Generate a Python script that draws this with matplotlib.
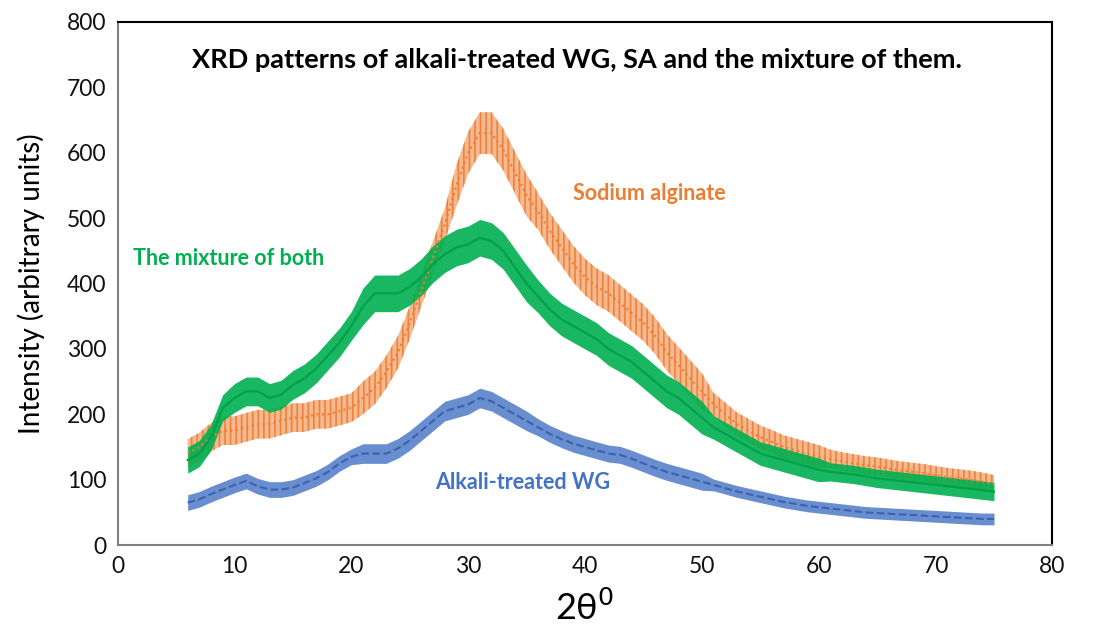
import numpy as np
import matplotlib.pyplot as plt

# =========================
# Datos
# =========================

two_theta = list(range(6, 76))

# Sodium alginate (naranja, punteado)
sa_int = [140, 150, 165, 175, 175, 180, 185, 185, 190, 195,
          195, 200, 200, 205, 210, 225, 240, 265, 295, 340,
          390, 440, 490, 550, 600, 630, 630, 605, 570, 535,
          510, 480, 455, 430, 410, 395, 385, 370, 355, 340,
          320, 295, 275, 255, 235, 215, 200, 185, 175, 165,
          158, 150, 145, 140, 135, 132, 128, 125, 122, 120,
          117, 114, 112, 110, 107, 104, 102, 100, 97, 93]
sa_spread = [22] * 15 + [25] * 8 + [32] * 7 + [28] * 15 + [18] * 10 + [14] * 15

# Mezcla (verde, sólido)
mix_int = [130, 140, 165, 210, 225, 235, 235, 225, 230, 245,
           255, 270, 290, 310, 335, 365, 385, 385, 385, 395,
           410, 430, 445, 455, 460, 470, 465, 450, 425, 400,
           380, 360, 345, 335, 325, 315, 300, 290, 280, 265,
           250, 235, 225, 210, 195, 180, 170, 160, 150, 140,
           135, 130, 125, 120, 115, 112, 110, 108, 105, 102,
           100, 98, 96, 94, 92, 90, 88, 86, 84, 82]
mix_spread = [20] * 4 + [22] * 11 + [28] * 15 + [25] * 15 + [18] * 10 + [14] * 15

# WG tratado con álcali (azul, guiones)
wg_int = [65, 70, 78, 85, 92, 98, 90, 85, 85, 88,
          95, 102, 112, 125, 135, 140, 140, 140, 148, 160,
          175, 190, 205, 210, 215, 225, 220, 210, 200, 190,
          180, 170, 162, 155, 150, 145, 140, 138, 132, 125,
          118, 112, 107, 102, 97, 92, 87, 82, 78, 74,
          70, 66, 63, 60, 58, 56, 54, 52, 50, 49,
          48, 47, 46, 45, 44, 43, 42, 41, 40, 40]
wg_spread = [12] * 15 + [15] * 15 + [13] * 15 + [9] * 25

# =========================
# Gráfico
# =========================

plt.rcParams["font.family"] = ["Lato", "DejaVu Sans"]
plt.rcParams["hatch.linewidth"] = 1.2

fig = plt.figure(figsize=(11.09, 6.28), dpi=100)
ax = fig.add_axes([0.106, 0.132, 0.843, 0.833])

x = np.array(two_theta)

# Sodium alginate: banda rayada (aspecto punteado)
y, s = np.array(sa_int), np.array(sa_spread)
plt.rcParams["hatch.color"] = "#ED7D31"
ax.fill_between(x, y - s, y + s, facecolor="#F4B183", alpha=0.9,
                edgecolor="#ED7D31", hatch="|||", linewidth=0)
ax.plot(x, y, color="#ED7D31", linestyle=":", linewidth=1.5)

# Mezcla
y, s = np.array(mix_int), np.array(mix_spread)
ax.fill_between(x, y - s, y + s, color="#00B050", alpha=0.9, linewidth=0)
ax.plot(x, y, color="#00A04A", linestyle="-", linewidth=1.5)

# WG
y, s = np.array(wg_int), np.array(wg_spread)
ax.fill_between(x, y - s, y + s, color="#4472C4", alpha=0.8, linewidth=0)
ax.plot(x, y, color="#3A62AE", linestyle="--", linewidth=1.5)

ax.set_xlim(0, 80)
ax.set_ylim(0, 800)
ax.set_xticks(range(0, 81, 10))
ax.set_yticks(range(0, 801, 100))
ax.tick_params(length=0, labelsize=16.5, pad=8, colors="#111111")

for lado in ["left", "bottom"]:
    ax.spines[lado].set_color("#808080")
for lado in ["top", "right"]:
    ax.spines[lado].set_color("black")
for sp in ax.spines.values():
    sp.set_linewidth(1.5)

ax.text(39.3, 742, "XRD patterns of alkali-treated WG, SA and the mixture of them.",
        ha="center", va="center", fontsize=19.5, fontweight="bold")
ax.text(39, 538, "Sodium alginate", color="#ED7D31", fontsize=15.5, fontweight="bold", va="center")
ax.text(1.3, 439, "The mixture of both", color="#00B050", fontsize=15.5, fontweight="bold", va="center")
ax.text(27.2, 95, "Alkali-treated WG", color="#4472C4", fontsize=15.5, fontweight="bold", va="center")

ax.set_ylabel("Intensity (arbitrary units)", fontsize=20, labelpad=16)
ax.set_xlabel("2θ$^0$", fontsize=26, labelpad=9)

fig.savefig("out.png", dpi=100)
